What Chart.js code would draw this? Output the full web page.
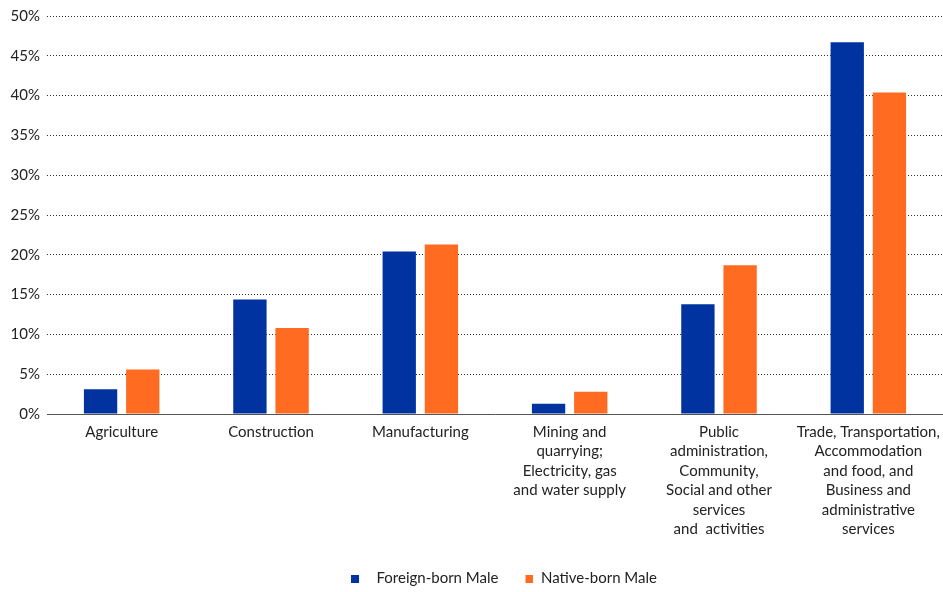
<!DOCTYPE html>
<html>
<head>
<meta charset="utf-8">
<script src="https://cdn.jsdelivr.net/npm/chart.js@4.4.1/dist/chart.umd.min.js"></script>
<style>
  html, body { margin: 0; padding: 0; background: #fff; }
  #wrap { width: 943px; height: 592px; position: relative; }
</style>
</head>
<body>
<div id="wrap"><canvas id="c"></canvas></div>
<script>
// Male employment share by sector, foreign-born vs native-born (%)
const sectors = [
  "Agriculture",
  "Construction",
  "Manufacturing",
  ["Mining and", "quarrying;", "Electricity, gas", "and water supply"],
  ["Public", "administration,", "Community,", "Social and other", "services", "and  activities"],
  ["Trade, Transportation,", "Accommodation", "and food, and", "Business and", "administrative", "services"],
];
const foreignBorn = [3.1, 14.4, 20.4, 1.3, 13.8, 46.7];
const nativeBorn = [5.6, 10.8, 21.3, 2.8, 18.7, 40.4];
const yTicks = [0, 5, 10, 15, 20, 25, 30, 35, 40, 45, 50];

const BLUE = "#0033a0";
const ORANGE = "#ff6b21";
const FONT = "Lato, 'Open Sans', sans-serif";

Chart.defaults.font.family = FONT;
Chart.defaults.color = "#222";

// 8px legend square inside an 18px slot; offset = where the square sits in the slot
function swatch(color, offset) {
  const c = document.createElement("canvas");
  c.width = 18; c.height = 8;
  const g = c.getContext("2d");
  g.fillStyle = color;
  g.fillRect(offset, 0, 8, 8);
  return c;
}
const swatches = [swatch(BLUE, 0), swatch(ORANGE, 10)];

// nudge the legend a little right of the plot centre
const legendNudge = {
  id: "legendNudge",
  afterLayout(chart) {
    const lg = chart.legend;
    if (lg) { lg.left += 9; lg.right += 9; }
  },
};

new Chart(document.getElementById("c"), {
  type: "bar",
  data: {
    labels: sectors,
    datasets: [
      { label: "Foreign-born Male", data: foreignBorn, backgroundColor: BLUE,
        barPercentage: 0.79, categoryPercentage: 0.565 },
      { label: "Native-born Male", data: nativeBorn, backgroundColor: ORANGE,
        barPercentage: 0.79, categoryPercentage: 0.565 },
    ],
  },
  plugins: [legendNudge],
  options: {
    responsive: true, maintainAspectRatio: false, animation: false,
    layout: { padding: { top: 15, right: 0, left: 0, bottom: -4 } },
    plugins: {
      tooltip: { enabled: false },
      legend: {
        position: "bottom",
        fullSize: false,
        labels: {
          usePointStyle: true, pointStyleWidth: 18, boxHeight: 8, padding: 17,
          font: { size: 15 }, color: "#222",
          generateLabels: chart =>
            Chart.defaults.plugins.legend.labels.generateLabels(chart)
              .map((l, i) => ({ ...l, pointStyle: swatches[i] })),
        },
      },
    },
    scales: {
      x: {
        afterFit: axis => { axis.height = 140; axis.paddingRight = 0; axis.paddingLeft = 0; },
        grid: { display: false, drawTicks: false },
        border: { display: true, color: "#555", width: 1 },
        ticks: { font: { size: 15, lineHeight: 1.3 }, color: "#222", maxRotation: 0, autoSkip: false, padding: 8 },
      },
      y: {
        min: 0, max: 50,
        afterBuildTicks: axis => { axis.ticks = yTicks.map(v => ({ value: v })); },
        afterFit: axis => { axis.width = 47; },
        grid: { color: "#333", lineWidth: 1, drawTicks: false },
        border: { display: false, dash: [1, 2] },
        ticks: { font: { size: 15 }, color: "#222", padding: 7, callback: v => v + "%" },
      },
    },
  },
});
</script>
</body>
</html>
